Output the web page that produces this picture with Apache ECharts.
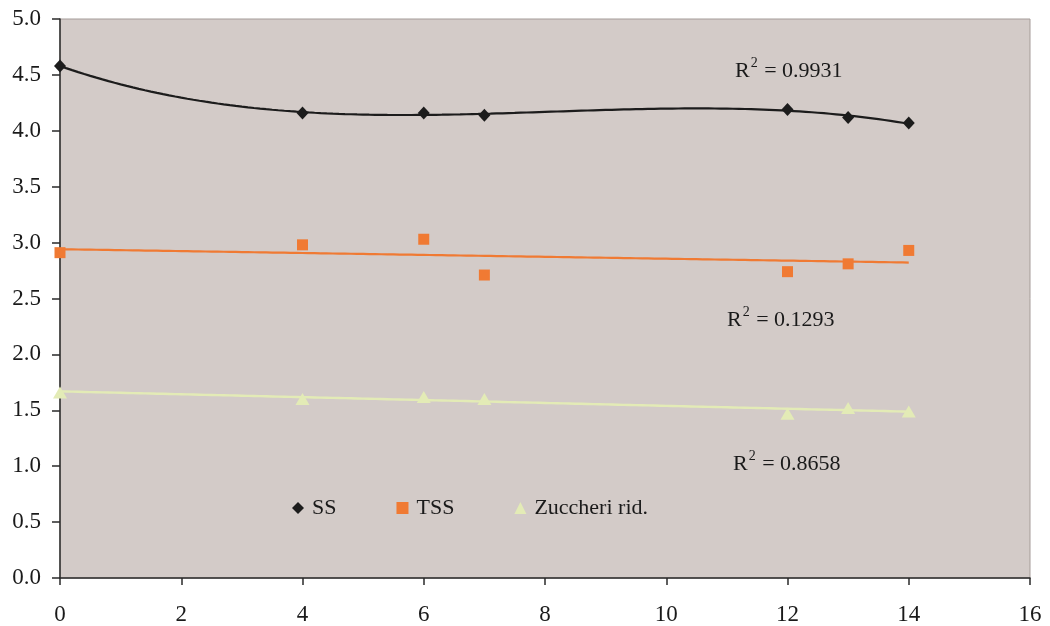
<!DOCTYPE html>
<html>
<head>
<meta charset="utf-8">
<style>
  html, body { margin: 0; padding: 0; background: #ffffff; }
  #chart { width: 1050px; height: 626px; }
</style>
<script src="https://cdn.jsdelivr.net/npm/echarts@6/dist/echarts.min.js"></script>
</head>
<body>
<div id="chart"></div>
<script>
// Storage days (x) and measured values per parameter
const days = [0, 4, 6, 7, 12, 13, 14];
const ssValues = [4.58, 4.16, 4.16, 4.14, 4.19, 4.12, 4.07];
const tssValues = [2.91, 2.98, 3.03, 2.71, 2.74, 2.81, 2.93];
const zuccheriValues = [1.66, 1.60, 1.62, 1.60, 1.47, 1.52, 1.49];

const seriesNames = ['SS', 'TSS', 'Zuccheri rid.'];
const r2Labels = ['0.9931', '0.1293', '0.8658'];
const xTicks = [0, 2, 4, 6, 8, 10, 12, 14, 16];
const yTicks = [0, 0.5, 1, 1.5, 2, 2.5, 3, 3.5, 4, 4.5, 5];

// Least-squares polynomial fit (trendline), returns coefficients a0..an
function polyFit(xs, ys, order) {
  const n = order + 1;
  const A = [];
  for (let i = 0; i < n; i++) {
    const row = [];
    for (let j = 0; j < n; j++) {
      let s = 0;
      xs.forEach(x => { s += Math.pow(x, i + j); });
      row.push(s);
    }
    let b = 0;
    xs.forEach((x, k) => { b += ys[k] * Math.pow(x, i); });
    row.push(b);
    A.push(row);
  }
  for (let c = 0; c < n; c++) {
    let p = c;
    for (let r = c + 1; r < n; r++) if (Math.abs(A[r][c]) > Math.abs(A[p][c])) p = r;
    [A[c], A[p]] = [A[p], A[c]];
    for (let r = 0; r < n; r++) {
      if (r === c) continue;
      const f = A[r][c] / A[c][c];
      for (let k = c; k <= n; k++) A[r][k] -= f * A[c][k];
    }
  }
  return A.map((row, i) => row[n] / row[i]);
}

// Sample the fitted curve across the measured day range
function trendPoints(xs, ys, order) {
  const coef = polyFit(xs, ys, order);
  const x0 = xs[0], x1 = xs[xs.length - 1];
  const pts = [];
  for (let x = x0; x <= x1 + 1e-9; x += 0.1) {
    let y = 0;
    coef.forEach((c, i) => { y += c * Math.pow(x, i); });
    pts.push([x, y]);
  }
  return pts;
}

const pairs = vals => days.map((d, i) => [d, vals[i]]);

const colors = { ss: '#1c1c1c', tss: '#f07a33', zuc: '#e3ebb6' };
const serif = '"Liberation Serif", "DejaVu Serif", serif';

const chart = echarts.init(document.getElementById('chart'), null, { renderer: 'canvas' });

function r2Text(value, x, y) {
  return {
    type: 'text',
    left: x,
    top: y,
    style: {
      text: '{r|R}{s|2}{r| = ' + value + '}',
      rich: {
        r: { fontFamily: serif, fontSize: 22, fill: '#1a1a1a', lineHeight: 26, verticalAlign: 'bottom' },
        s: { fontFamily: serif, fontSize: 14, fill: '#1a1a1a', lineHeight: 26, verticalAlign: 'top', padding: [0, 1, 0, 1] }
      }
    }
  };
}

chart.setOption({
  animation: false,
  backgroundColor: '#ffffff',
  grid: {
    left: 60, right: 20, top: 19, bottom: 48,
    show: true,
    backgroundColor: '#d3cbc8',
    borderColor: '#a59c99',
    borderWidth: 1
  },
  legend: {
    data: [
      { name: seriesNames[0], icon: 'diamond' },
      { name: seriesNames[1], icon: 'rect' },
      { name: seriesNames[2], icon: 'triangle' }
    ],
    left: 287,
    top: 492,
    itemWidth: 12,
    itemHeight: 12,
    itemGap: 60,
    textStyle: { fontFamily: serif, fontSize: 22, color: '#1a1a1a', padding: [0, 0, 0, 3] }
  },
  xAxis: {
    type: 'value',
    min: 0, max: 16, interval: 2,
    axisLine: { show: true, onZero: false, lineStyle: { color: '#2a2a2a', width: 1.5 } },
    axisTick: { show: true, inside: false, length: 7, lineStyle: { color: '#2a2a2a', width: 1.5 } },
    axisLabel: {
      margin: 25, fontFamily: serif, fontSize: 23, color: '#1a1a1a',
      formatter: v => xTicks.includes(v) ? String(v) : ''
    },
    splitLine: { show: false }
  },
  yAxis: {
    type: 'value',
    min: 0, max: 5, interval: 0.5,
    axisLine: { show: true, onZero: false, lineStyle: { color: '#2a2a2a', width: 1.5 } },
    axisTick: { show: true, inside: false, length: 8, lineStyle: { color: '#2a2a2a', width: 1.5 } },
    axisLabel: {
      margin: 19, fontFamily: serif, fontSize: 23, color: '#1a1a1a',
      padding: [8, 0, 0, 0],
      formatter: v => yTicks.some(t => Math.abs(t - v) < 1e-9) ? v.toFixed(1) : ''
    },
    splitLine: { show: false }
  },
  series: [
    {
      name: 'SS trend', type: 'line', data: trendPoints(days, ssValues, 3),
      showSymbol: false, silent: true,
      lineStyle: { color: colors.ss, width: 2.2 }, z: 2
    },
    {
      name: 'TSS trend', type: 'line', data: trendPoints(days, tssValues, 1),
      showSymbol: false, silent: true,
      lineStyle: { color: colors.tss, width: 2.2 }, z: 2
    },
    {
      name: 'Zuccheri trend', type: 'line', data: trendPoints(days, zuccheriValues, 1),
      showSymbol: false, silent: true,
      lineStyle: { color: colors.zuc, width: 2.4 }, z: 2
    },
    {
      name: seriesNames[0], type: 'scatter', data: pairs(ssValues),
      symbol: 'diamond', symbolSize: [12, 13],
      itemStyle: { color: colors.ss, opacity: 1 }, z: 3
    },
    {
      name: seriesNames[1], type: 'scatter', data: pairs(tssValues),
      symbol: 'rect', symbolSize: 11,
      itemStyle: { color: colors.tss, opacity: 1 }, z: 3
    },
    {
      name: seriesNames[2], type: 'scatter', data: pairs(zuccheriValues),
      symbol: 'triangle', symbolSize: [14, 12],
      itemStyle: { color: colors.zuc, opacity: 1 }, z: 3
    }
  ],
  graphic: [
    r2Text(r2Labels[0], 735, 56),
    r2Text(r2Labels[1], 727, 305),
    r2Text(r2Labels[2], 733, 449)
  ]
});
</script>
</body>
</html>
